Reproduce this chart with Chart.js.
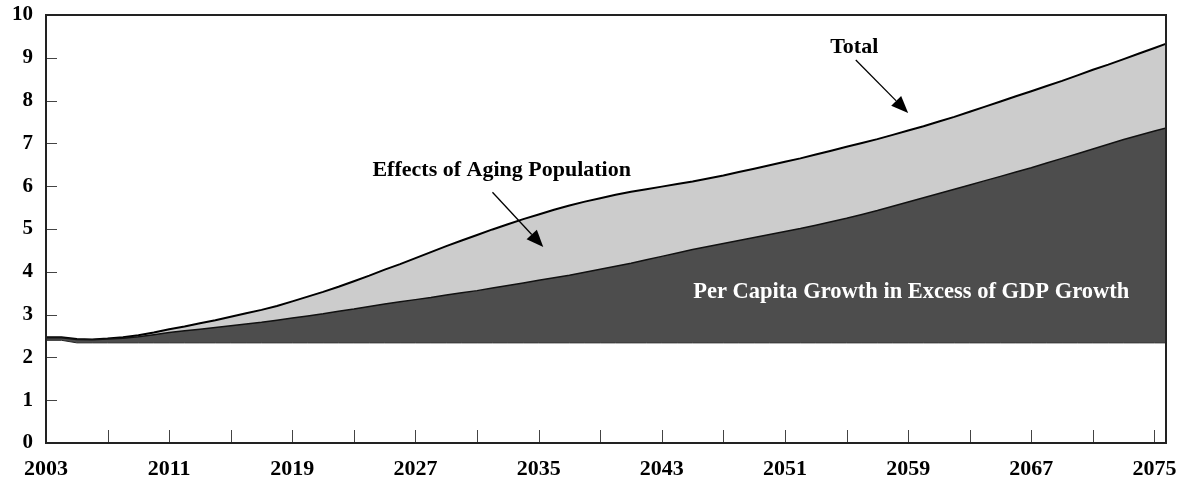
<!DOCTYPE html>
<html>
<head>
<meta charset="utf-8">
<script src="https://cdn.jsdelivr.net/npm/chart.js@4.4.1/dist/chart.umd.min.js"></script>
<style>
  html, body { margin: 0; padding: 0; background: #fff; }
  #wrap { width: 1179px; height: 483px; }
</style>
</head>
<body>
<div id="wrap"><canvas id="myChart" width="1179" height="483"></canvas></div>
<script>
const years = [
    2003, 2004, 2005, 2006, 2007, 2008, 2009, 2010, 2011, 2012,
    2013, 2014, 2015, 2016, 2017, 2018, 2019, 2020, 2021, 2022,
    2023, 2024, 2025, 2026, 2027, 2028, 2029, 2030, 2031, 2032,
    2033, 2034, 2035, 2036, 2037, 2038, 2039, 2040, 2041, 2042,
    2043, 2044, 2045, 2046, 2047, 2048, 2049, 2050, 2051, 2052,
    2053, 2054, 2055, 2056, 2057, 2058, 2059, 2060, 2061, 2062,
    2063, 2064, 2065, 2066, 2067, 2068, 2069, 2070, 2071, 2072,
    2073, 2074, 2075, 2076
];

// bottom of the shaded areas (level without excess growth)
const baseLevel = [
    2.40, 2.40, 2.34, 2.34, 2.34, 2.34, 2.34, 2.34, 2.34, 2.34,
    2.34, 2.34, 2.34, 2.34, 2.34, 2.34, 2.34, 2.34, 2.34, 2.34,
    2.34, 2.34, 2.34, 2.34, 2.34, 2.34, 2.34, 2.34, 2.34, 2.34,
    2.34, 2.34, 2.34, 2.34, 2.34, 2.34, 2.34, 2.34, 2.34, 2.34,
    2.34, 2.34, 2.34, 2.34, 2.34, 2.34, 2.34, 2.34, 2.34, 2.34,
    2.34, 2.34, 2.34, 2.34, 2.34, 2.34, 2.34, 2.34, 2.34, 2.34,
    2.34, 2.34, 2.34, 2.34, 2.34, 2.34, 2.34, 2.34, 2.34, 2.34,
    2.34, 2.34, 2.34, 2.34
];

// top of "Per Capita Growth in Excess of GDP Growth"
const perCapita = [
    2.46, 2.46, 2.42, 2.41, 2.43, 2.45, 2.48, 2.53, 2.58, 2.62,
    2.66, 2.70, 2.74, 2.78, 2.82, 2.87, 2.92, 2.97, 3.02, 3.08,
    3.13, 3.19, 3.25, 3.30, 3.35, 3.40, 3.46, 3.51, 3.56, 3.62,
    3.68, 3.74, 3.80, 3.86, 3.92, 3.99, 4.06, 4.13, 4.20, 4.28,
    4.36, 4.44, 4.52, 4.59, 4.66, 4.73, 4.80, 4.87, 4.94, 5.01,
    5.09, 5.17, 5.25, 5.34, 5.43, 5.53, 5.63, 5.73, 5.83, 5.93,
    6.03, 6.13, 6.23, 6.33, 6.43, 6.54, 6.65, 6.76, 6.87, 6.98,
    7.09, 7.19, 7.29, 7.38
];

// total (per capita + effects of aging population)
const total = [
    2.47, 2.47, 2.43, 2.42, 2.44, 2.47, 2.52, 2.58, 2.66, 2.72,
    2.80, 2.87, 2.95, 3.03, 3.11, 3.20, 3.31, 3.42, 3.53, 3.65,
    3.78, 3.91, 4.05, 4.18, 4.32, 4.46, 4.60, 4.73, 4.86, 4.99,
    5.11, 5.23, 5.34, 5.45, 5.55, 5.64, 5.72, 5.80, 5.87, 5.93,
    5.99, 6.05, 6.11, 6.18, 6.25, 6.33, 6.41, 6.49, 6.57, 6.65,
    6.74, 6.83, 6.92, 7.01, 7.10, 7.20, 7.30, 7.40, 7.51, 7.62,
    7.74, 7.86, 7.98, 8.10, 8.22, 8.34, 8.46, 8.59, 8.72, 8.84,
    8.97, 9.10, 9.23, 9.36
];

const tickYears = [2003, 2007, 2011, 2015, 2019, 2023, 2027, 2031, 2035, 2039,
    2043, 2047, 2051, 2055, 2059, 2063, 2067, 2071, 2075];
const labelYears = [2003, 2011, 2019, 2027, 2035, 2043, 2051, 2059, 2067, 2075];
const yTicks = [0, 1, 2, 3, 4, 5, 6, 7, 8, 9, 10];

const FONT = '"Liberation Serif", "Times New Roman", serif';

function points(values) {
    return years.map((y, i) => ({ x: y, y: values[i] }));
}

// frame, inward tick marks and the text labels with arrows
const decorations = {
    id: 'decorations',
    afterDatasetsDraw(chart) {
        const ctx = chart.ctx;
        const area = chart.chartArea;
        const xs = chart.scales.x;
        const ys = chart.scales.y;

        ctx.save();
        ctx.strokeStyle = '#444';
        ctx.lineWidth = 1;
        tickYears.forEach(t => {
            const px = Math.round(xs.getPixelForValue(t)) + 0.5;
            ctx.beginPath();
            ctx.moveTo(px, area.bottom);
            ctx.lineTo(px, area.bottom - 13);
            ctx.stroke();
        });
        yTicks.forEach(t => {
            const py = Math.round(ys.getPixelForValue(t)) + 0.5;
            ctx.beginPath();
            ctx.moveTo(area.left, py);
            ctx.lineTo(area.left + 11, py);
            ctx.stroke();
        });

        ctx.strokeStyle = '#222';
        ctx.lineWidth = 2;
        ctx.strokeRect(area.left, area.top, area.right - area.left, area.bottom - area.top);

        function label(text, x, y, color, size) {
            ctx.fillStyle = color;
            ctx.font = 'bold ' + size + 'px ' + FONT;
            ctx.textAlign = 'center';
            ctx.textBaseline = 'middle';
            ctx.fillText(text, xs.getPixelForValue(x), ys.getPixelForValue(y));
        }

        function arrow(x1, y1, x2, y2) {
            const ax = xs.getPixelForValue(x1), ay = ys.getPixelForValue(y1);
            const bx = xs.getPixelForValue(x2), by = ys.getPixelForValue(y2);
            const ang = Math.atan2(by - ay, bx - ax);
            const len = 17, half = 7;
            const cx = bx - len * Math.cos(ang), cy = by - len * Math.sin(ang);
            ctx.strokeStyle = '#000';
            ctx.lineWidth = 1.3;
            ctx.beginPath();
            ctx.moveTo(ax, ay);
            ctx.lineTo(cx, cy);
            ctx.stroke();
            ctx.fillStyle = '#000';
            ctx.beginPath();
            ctx.moveTo(bx, by);
            ctx.lineTo(cx + half * Math.sin(ang), cy - half * Math.cos(ang));
            ctx.lineTo(cx - half * Math.sin(ang), cy + half * Math.cos(ang));
            ctx.closePath();
            ctx.fill();
        }

        label('Total', 2055.5, 9.25, '#000', 22);
        arrow(2055.6, 8.95, 2059.0, 7.71);

        label('Effects of Aging Population', 2032.6, 6.36, '#000', 22);
        arrow(2032.0, 5.86, 2035.3, 4.58);

        label('Per Capita Growth in Excess of GDP Growth', 2059.2, 3.53, '#fff', 22.5);

        ctx.restore();
    }
};

const ctx = document.getElementById('myChart');

new Chart(ctx, {
    type: 'line',
    data: {
        datasets: [
            {
                label: 'Base',
                data: points(baseLevel),
                borderColor: '#222',
                borderWidth: 1,
                pointRadius: 0,
                fill: false,
            },
            {
                label: 'Per Capita Growth in Excess of GDP Growth',
                data: points(perCapita),
                borderColor: '#111',
                borderWidth: 1.5,
                backgroundColor: '#4d4d4d',
                pointRadius: 0,
                fill: '-1',
            },
            {
                label: 'Total',
                data: points(total),
                borderColor: '#000',
                borderWidth: 2,
                backgroundColor: '#cccccc',
                pointRadius: 0,
                fill: '-1',
            }
        ]
    },
    options: {
        responsive: false,
        animation: false,
        layout: { padding: { top: 15, right: 13, left: 0, bottom: 0 } },
        plugins: {
            legend: { display: false },
            tooltip: { enabled: false },
        },
        scales: {
            x: {
                type: 'linear',
                min: 2003,
                max: 2075.75,
                grid: { display: false, drawTicks: false },
                border: { display: true, color: '#222', width: 2 },
                afterBuildTicks: scale => {
                    scale.ticks = tickYears.map(v => ({ value: v }));
                },
                afterFit: scale => {
                    scale.height = 40;
                    scale.paddingLeft = 0;
                    scale.paddingRight = 0;
                },
                ticks: {
                    autoSkip: false,
                    maxRotation: 0,
                    padding: 13,
                    color: '#000',
                    font: { family: FONT, size: 22, weight: 'bold' },
                    callback: v => labelYears.includes(v) ? String(v) : '',
                },
            },
            y: {
                min: 0,
                max: 10,
                grid: { display: false, drawTicks: false },
                border: { display: true, color: '#222', width: 2 },
                afterFit: scale => {
                    scale.width = 46;
                    scale.paddingTop = 0;
                    scale.paddingBottom = 0;
                },
                ticks: {
                    stepSize: 1,
                    padding: 13,
                    color: '#000',
                    font: { family: FONT, size: 21, weight: 'bold' },
                },
            }
        }
    },
    plugins: [decorations]
});
</script>
</body>
</html>
